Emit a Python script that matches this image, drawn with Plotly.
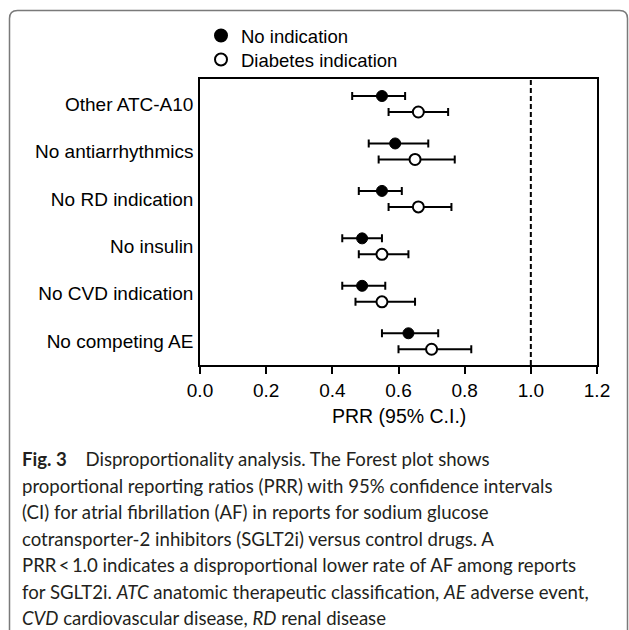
import plotly.graph_objects as go

# ---- data (top to bottom as shown) ----
categories = ["Other ATC-A10", "No antiarrhythmics", "No RD indication",
              "No insulin", "No CVD indication", "No competing AE"]
no_ind_prr = [0.55, 0.59, 0.55, 0.49, 0.49, 0.63]
no_ind_lo  = [0.46, 0.51, 0.48, 0.43, 0.43, 0.55]
no_ind_hi  = [0.62, 0.69, 0.61, 0.55, 0.56, 0.72]
diab_prr   = [0.66, 0.65, 0.66, 0.55, 0.55, 0.70]
diab_lo    = [0.57, 0.54, 0.57, 0.48, 0.47, 0.60]
diab_hi    = [0.75, 0.77, 0.76, 0.63, 0.65, 0.82]
x_ticks = [0.0, 0.2, 0.4, 0.6, 0.8, 1.0, 1.2]
x_tick_labels = ["0.0", "0.2", "0.4", "0.6", "0.8", "1.0", "1.2"]
reference_value = 1.0
caption_lines = [
    "<b>Fig. 3</b>\u2003 Disproportionality analysis. The Forest plot shows",
    "proportional reporting ratios (PRR) with 95% confidence intervals",
    "(CI) for atrial fibrillation (AF) in reports for sodium glucose",
    "cotransporter-2 inhibitors (SGLT2i) versus control drugs. A",
    "PRR\u2009&lt;\u20091.0 indicates a disproportional lower rate of AF among reports",
    "for SGLT2i. <i>ATC</i> anatomic therapeutic classification, <i>AE</i> adverse event,",
    "<i>CVD</i> cardiovascular disease, <i>RD</i> renal disease",
]

# ---- layout geometry (pixels) ----
W, H = 629, 630
L, R, T, B = 200, 32, 79, 265
PW, PH = W - L - R, H - T - B

def px_x(px):
    return (px - L) / PW

def px_y(py):
    return (H - B - py) / PH

n = len(categories)
pos = [n - 1 - i for i in range(n)]  # top category gets highest index
off = 0.1686

FONT = "Liberation Sans, Arial, sans-serif"
FS = 19

fig = go.Figure()
fig.add_trace(go.Scatter(
    x=no_ind_prr, y=[p + off for p in pos], mode="markers", name="No indication",
    legend="legend",
    marker=dict(symbol="circle", size=11, color="black", line=dict(color="black", width=1)),
    error_x=dict(type="data", symmetric=False,
                 array=[h - v for h, v in zip(no_ind_hi, no_ind_prr)],
                 arrayminus=[v - l for v, l in zip(no_ind_prr, no_ind_lo)],
                 color="black", thickness=2, width=4),
))
fig.add_trace(go.Scatter(
    x=diab_prr, y=[p - off for p in pos], mode="markers", name="Diabetes indication",
    legend="legend2",
    marker=dict(symbol="circle", size=11, color="white", line=dict(color="black", width=2)),
    error_x=dict(type="data", symmetric=False,
                 array=[h - v for h, v in zip(diab_hi, diab_prr)],
                 arrayminus=[v - l for v, l in zip(diab_prr, diab_lo)],
                 color="black", thickness=2, width=4),
))

shapes = []
# reference dashed line
shapes.append(dict(type="line", xref="x", yref="paper", x0=reference_value, x1=reference_value,
                   y0=0, y1=1, line=dict(color="black", width=2, dash="5px,3px"), layer="below"))
# outer rounded frame
x0, x1 = px_x(9.5), px_x(627.5)
yt, yb = px_y(10.5), px_y(660)
rx, ry = 8 / PW, 8 / PH
path = (f"M {x0},{yb} L {x0},{yt - ry} Q {x0},{yt} {x0 + rx},{yt} "
        f"L {x1 - rx},{yt} Q {x1},{yt} {x1},{yt - ry} L {x1},{yb}")
shapes.append(dict(type="path", xref="paper", yref="paper", path=path,
                   line=dict(color="#7a7a7a", width=1.5)))

annotations = []
annotations.append(dict(text="PRR (95% C.I.)", xref="paper", yref="paper",
                        x=0.5, y=px_y(416), xanchor="center", yanchor="middle",
                        showarrow=False, font=dict(family=FONT, size=19.5, color="black")))
y0_cap, dy_cap = 459, 26.5
for i, line in enumerate(caption_lines):
    annotations.append(dict(text=line, xref="paper", yref="paper",
                            x=px_x(20), y=px_y(y0_cap + i * dy_cap),
                            xanchor="left", yanchor="middle", align="left",
                            showarrow=False,
                            font=dict(family="Lato, sans-serif", size=18.6, color="#231f20")))

legend_style = dict(xanchor="left", yanchor="middle", bgcolor="rgba(0,0,0,0)",
                    font=dict(family=FONT, size=18.5, color="black"),
                    itemsizing="constant")
fig.update_layout(
    width=W, height=H,
    margin=dict(l=L, r=R, t=T, b=B, pad=0),
    paper_bgcolor="white", plot_bgcolor="white",
    font=dict(family=FONT, size=FS, color="black"),
    showlegend=True,
    legend=dict(x=px_x(201), y=px_y(36), **legend_style),
    legend2=dict(x=px_x(201), y=px_y(60), **legend_style),
    shapes=shapes, annotations=annotations,
)
fig.update_xaxes(range=[0, 1.2], tickvals=x_ticks, ticktext=x_tick_labels,
                 ticks="outside", ticklen=7, tickwidth=1.5, tickcolor="black",
                 showline=True, linecolor="black", linewidth=1.5, mirror=True,
                 showgrid=False, zeroline=False,
                 tickfont=dict(family=FONT, size=FS, color="black"))
fig.update_yaxes(range=[-0.5, 5.527], tickvals=pos, ticktext=categories,
                 ticks="", ticklabelstandoff=1,
                 showline=True, linecolor="black", linewidth=1.5, mirror=True,
                 showgrid=False, zeroline=False,
                 tickfont=dict(family=FONT, size=FS, color="black"))

fig.write_html("out.html", config={"displayModeBar": False},
               post_script="document.body.style.margin='0px';document.body.style.overflow='hidden';")
